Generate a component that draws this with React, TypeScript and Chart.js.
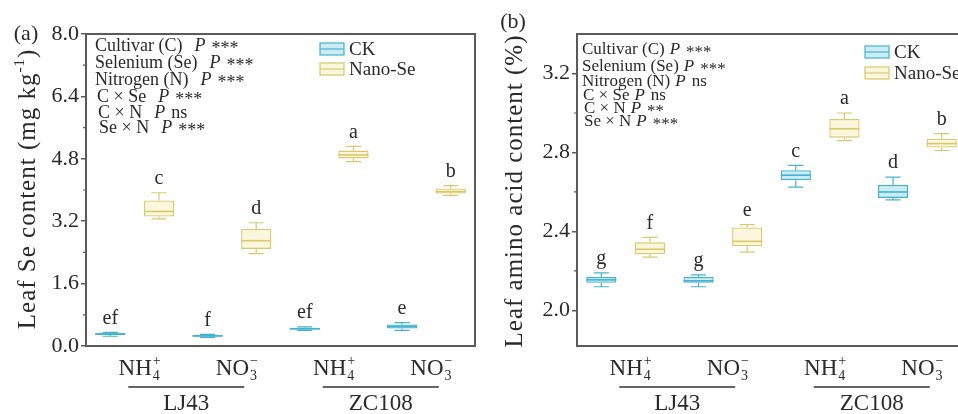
import React, { useEffect, useRef } from "react";
import { Chart, registerables } from "chart.js";

Chart.register(...registerables);

// ---------------- data ----------------
const categories = [
  "LJ43 NH4+ CK",
  "LJ43 NH4+ Nano-Se",
  "LJ43 NO3- CK",
  "LJ43 NO3- Nano-Se",
  "ZC108 NH4+ CK",
  "ZC108 NH4+ Nano-Se",
  "ZC108 NO3- CK",
  "ZC108 NO3- Nano-Se",
];
const treatments = ["CK", "Nano-Se"];
const nitrogenForms = ["NH4+", "NO3-", "NH4+", "NO3-"];
const cultivars = ["LJ43", "ZC108"];

// (a) Leaf Se content (mg kg-1)
const seMin = [0.25, 3.26, 0.22, 2.37, 0.4, 4.73, 0.4, 3.86];
const seQ1 = [0.28, 3.32, 0.24, 2.49, 0.42, 4.81, 0.45, 3.91];
const seMedian = [0.31, 3.45, 0.26, 2.7, 0.44, 4.9, 0.5, 3.96];
const seQ3 = [0.33, 3.73, 0.28, 3.0, 0.47, 5.01, 0.55, 4.04];
const seMax = [0.35, 3.93, 0.3, 3.16, 0.49, 5.12, 0.6, 4.11];
const seLetters = ["ef", "c", "f", "d", "ef", "a", "e", "b"];
const seTicks = [0, 1.6, 3.2, 4.8, 6.4, 8.0];
const seMinorTicks = [0.8, 2.4, 4.0, 5.6, 7.2];

// (b) Leaf amino acid content (%)
const aaMin = [2.12, 2.27, 2.12, 2.295, 2.625, 2.86, 2.56, 2.81];
const aaQ1 = [2.14, 2.285, 2.14, 2.325, 2.66, 2.875, 2.57, 2.825];
const aaMedian = [2.155, 2.31, 2.15, 2.35, 2.685, 2.92, 2.6, 2.845];
const aaQ3 = [2.17, 2.345, 2.17, 2.42, 2.71, 2.97, 2.635, 2.87];
const aaMax = [2.19, 2.37, 2.18, 2.435, 2.735, 3.0, 2.675, 2.895];
const aaLetters = ["g", "f", "g", "e", "c", "a", "d", "b"];
const aaTicks = [2.0, 2.4, 2.8, 3.2];
const aaMinorTicks = [2.2, 2.6, 3.0];

const statsA = [
  ["Cultivar (C)", "***"],
  ["Selenium (Se)", "***"],
  ["Nitrogen (N)", "***"],
  ["C × Se", "***"],
  ["C × N", "ns"],
  ["Se × N", "***"],
];
const statsB = [
  ["Cultivar (C)", "***"],
  ["Selenium (Se)", "***"],
  ["Nitrogen (N)", "ns"],
  ["C × Se", "ns"],
  ["C × N", "**"],
  ["Se × N", "***"],
];

// ---------------- styles ----------------
const SERIF = "'Liberation Serif', 'Times New Roman', serif";
const TEXT = "#2a2a2a";
const AXIS = "#5a5a5a";
const CK_BORDER = "#43b4cf";
const CK_FILL = "rgba(160,220,234,0.55)";
const NS_BORDER = "#d9c96c";
const NS_FILL = "rgba(250,244,205,0.7)";
const W = 491;
const H = 414;

type Panel = {
  panelLabel: string;
  panelLabelPos: [number, number];
  titleParts: [string, string, string];
  titleCenter: [number, number];
  yMin: number;
  yMax: number;
  ticks: number[];
  minor: number[];
  min: number[];
  q1: number[];
  med: number[];
  q3: number[];
  max: number[];
  letters: string[];
  stats: string[][];
  statsX: number[];
  statsY: number[];
  statsFont: number;
  statsGap: number;
  legendX: number;
  legendY: [number, number];
};

const panelA: Panel = {
  panelLabel: "(a)",
  panelLabelPos: [26, 34],
  titleParts: ["Leaf Se content (mg kg", "-1", ")"],
  titleCenter: [28, 189],
  yMin: 0,
  yMax: 8,
  ticks: seTicks,
  minor: seMinorTicks,
  min: seMin,
  q1: seQ1,
  med: seMedian,
  q3: seQ3,
  max: seMax,
  letters: seLetters,
  stats: statsA,
  statsX: [95, 95, 95, 97, 98, 99],
  statsY: [46, 63, 80, 97, 113, 128],
  statsFont: 18,
  statsGap: 12,
  legendX: 320,
  legendY: [49, 69],
};

const panelB: Panel = {
  panelLabel: "(b)",
  panelLabelPos: [22, 22],
  titleParts: ["Leaf amino acid content (%)", "", ""],
  titleCenter: [24, 191],
  yMin: 1.82,
  yMax: 3.4,
  ticks: aaTicks,
  minor: aaMinorTicks,
  min: aaMin,
  q1: aaQ1,
  med: aaMedian,
  q3: aaQ3,
  max: aaMax,
  letters: aaLetters,
  stats: statsB,
  statsX: [91, 91, 91, 92, 93, 93],
  statsY: [50, 67, 82, 96, 109, 122],
  statsFont: 17,
  statsGap: 5,
  legendX: 374,
  legendY: [52, 73],
};

function drawIon(ctx: CanvasRenderingContext2D, cx: number, baseY: number, base: string, sub: string, sup: string) {
  ctx.font = `23px ${SERIF}`;
  const wb = ctx.measureText(base).width;
  ctx.font = `14px ${SERIF}`;
  const ws = Math.max(ctx.measureText(sub).width, ctx.measureText(sup).width);
  const total = wb + ws + 1;
  const x0 = cx - total / 2;
  ctx.textAlign = "left";
  ctx.textBaseline = "alphabetic";
  ctx.font = `23px ${SERIF}`;
  ctx.fillText(base, x0, baseY);
  ctx.font = `14px ${SERIF}`;
  ctx.fillText(sub, x0 + wb + 1, baseY + 5);
  ctx.fillText(sup, x0 + wb + 1, baseY - 10);
}

function makePlugin(p: Panel) {
  return {
    id: "boxplotDecor",
    afterDatasetsDraw(chart: any) {
      const ctx: CanvasRenderingContext2D = chart.ctx;
      const xs = chart.scales.x;
      const ys = chart.scales.y;
      const area = chart.chartArea;
      const band = xs.getPixelForValue(1) - xs.getPixelForValue(0);
      const boxW = band * 0.62;
      ctx.save();
      // whiskers, medians, letters
      for (let i = 0; i < categories.length; i++) {
        const isCK = i % 2 === 0;
        const col = isCK ? CK_BORDER : NS_BORDER;
        const x = xs.getPixelForValue(i);
        const yMn = ys.getPixelForValue(p.min[i]);
        const yQ1 = ys.getPixelForValue(p.q1[i]);
        const yMd = ys.getPixelForValue(p.med[i]);
        const yQ3 = ys.getPixelForValue(p.q3[i]);
        const yMx = ys.getPixelForValue(p.max[i]);
        ctx.strokeStyle = col;
        ctx.lineWidth = 1.2;
        ctx.beginPath();
        ctx.moveTo(x, yQ3);
        ctx.lineTo(x, yMx);
        ctx.moveTo(x, yQ1);
        ctx.lineTo(x, yMn);
        ctx.moveTo(x - boxW * 0.25, yMx);
        ctx.lineTo(x + boxW * 0.25, yMx);
        ctx.moveTo(x - boxW * 0.25, yMn);
        ctx.lineTo(x + boxW * 0.25, yMn);
        ctx.stroke();
        ctx.lineWidth = 1.6;
        ctx.beginPath();
        ctx.moveTo(x - boxW / 2, yMd);
        ctx.lineTo(x + boxW / 2, yMd);
        ctx.stroke();
        ctx.fillStyle = TEXT;
        ctx.font = `20px ${SERIF}`;
        ctx.textAlign = "center";
        ctx.textBaseline = "middle";
        ctx.fillText(p.letters[i], x, yMx - 14);
      }
      // frame top and right
      ctx.strokeStyle = AXIS;
      ctx.lineWidth = 2;
      ctx.beginPath();
      ctx.moveTo(area.left, area.top);
      ctx.lineTo(area.right, area.top);
      ctx.lineTo(area.right, area.bottom);
      ctx.stroke();
      // minor ticks
      ctx.lineWidth = 1.2;
      ctx.beginPath();
      for (const v of p.minor) {
        const y = ys.getPixelForValue(v);
        ctx.moveTo(area.left - 3, y);
        ctx.lineTo(area.left, y);
      }
      ctx.stroke();
      // stats text
      ctx.fillStyle = TEXT;
      ctx.textAlign = "left";
      ctx.textBaseline = "middle";
      p.stats.forEach((s, k) => {
        let x = p.statsX[k];
        const y = p.statsY[k];
        ctx.font = `${p.statsFont}px ${SERIF}`;
        ctx.fillText(s[0], x, y);
        x += ctx.measureText(s[0]).width + p.statsGap;
        ctx.font = `italic ${p.statsFont}px ${SERIF}`;
        ctx.fillText("P", x, y);
        x += ctx.measureText("P").width + 6;
        ctx.font = `${p.statsFont}px ${SERIF}`;
        ctx.fillText(s[1], x, s[1] === "ns" ? y : y + 3);
      });
      // legend
      treatments.forEach((t, k) => {
        const y = p.legendY[k];
        ctx.fillStyle = k === 0 ? CK_FILL : NS_FILL;
        ctx.strokeStyle = k === 0 ? CK_BORDER : NS_BORDER;
        ctx.lineWidth = 1.2;
        ctx.fillRect(p.legendX, y - 6, 24, 12);
        ctx.strokeRect(p.legendX, y - 6, 24, 12);
        ctx.beginPath();
        ctx.moveTo(p.legendX, y);
        ctx.lineTo(p.legendX + 24, y);
        ctx.stroke();
        ctx.fillStyle = TEXT;
        ctx.font = `19px ${SERIF}`;
        ctx.textAlign = "left";
        ctx.textBaseline = "middle";
        ctx.fillText(t, p.legendX + 29, y + 1);
      });
      // x-axis labels
      ctx.fillStyle = TEXT;
      for (let j = 0; j < 4; j++) {
        const cx = (xs.getPixelForValue(2 * j) + xs.getPixelForValue(2 * j + 1)) / 2 + 5;
        const f = nitrogenForms[j];
        if (f === "NH4+") drawIon(ctx, cx, 375, "NH", "4", "+");
        else drawIon(ctx, cx, 375, "NO", "3", "−");
      }
      cultivars.forEach((c, k) => {
        const mid = (xs.getPixelForValue(4 * k) + xs.getPixelForValue(4 * k + 3)) / 2 + 3;
        ctx.strokeStyle = "#333";
        ctx.lineWidth = 1.5;
        ctx.beginPath();
        ctx.moveTo(mid - 58, 387);
        ctx.lineTo(mid + 58, 387);
        ctx.stroke();
        ctx.fillStyle = TEXT;
        ctx.font = `23px ${SERIF}`;
        ctx.textAlign = "center";
        ctx.textBaseline = "middle";
        ctx.fillText(c, mid, 404);
      });
      // panel label
      ctx.font = `22px ${SERIF}`;
      ctx.textAlign = "center";
      ctx.textBaseline = "middle";
      ctx.fillText(p.panelLabel, p.panelLabelPos[0], p.panelLabelPos[1]);
      // y title
      const TF = 25;
      const SF = 15;
      (ctx as any).letterSpacing = "1px";
      ctx.translate(p.titleCenter[0], p.titleCenter[1]);
      ctx.rotate(-Math.PI / 2);
      ctx.font = `${TF}px ${SERIF}`;
      const w0 = ctx.measureText(p.titleParts[0]).width;
      ctx.font = `${SF}px ${SERIF}`;
      const w1 = ctx.measureText(p.titleParts[1]).width;
      ctx.font = `${TF}px ${SERIF}`;
      const w2 = ctx.measureText(p.titleParts[2]).width;
      let tx = -(w0 + w1 + w2) / 2;
      ctx.textAlign = "left";
      ctx.textBaseline = "middle";
      ctx.fillText(p.titleParts[0], tx, 0);
      tx += w0;
      ctx.font = `${SF}px ${SERIF}`;
      ctx.fillText(p.titleParts[1], tx, -8);
      tx += w1;
      ctx.font = `${TF}px ${SERIF}`;
      ctx.fillText(p.titleParts[2], tx, 0);
      (ctx as any).letterSpacing = "0px";
      ctx.restore();
    },
  };
}

function buildConfig(p: Panel): any {
  return {
    type: "bar",
    data: {
      labels: categories,
      datasets: treatments.map((t, k) => ({
        label: t,
        data: categories.map((_, i) => (i % 2 === k ? [p.q1[i], p.q3[i]] : null)),
        backgroundColor: k === 0 ? CK_FILL : NS_FILL,
        borderColor: k === 0 ? CK_BORDER : NS_BORDER,
        borderWidth: 1.3,
        borderSkipped: false,
        skipNull: true,
        categoryPercentage: 1,
        barPercentage: 0.62,
      })),
    },
    options: {
      responsive: false,
      animation: false,
      devicePixelRatio: 1,
      layout: { padding: { left: 0, top: 34, right: 16, bottom: 0 } },
      plugins: { legend: { display: false }, tooltip: { enabled: false } },
      scales: {
        x: {
          type: "category",
          ticks: { display: false },
          grid: { display: false, drawTicks: false },
          border: { display: true, color: AXIS, width: 2 },
          afterFit: (s: any) => {
            s.height = 68;
          },
        },
        y: {
          min: p.yMin,
          max: p.yMax,
          afterBuildTicks: (s: any) => {
            s.ticks = p.ticks.map((v) => ({ value: v }));
          },
          ticks: {
            font: { family: SERIF, size: 22 },
            color: TEXT,
            padding: 2,
            callback: (v: any) => Number(v).toFixed(1),
          },
          grid: { drawOnChartArea: false, drawTicks: true, tickLength: 5, color: AXIS, lineWidth: 1.5 },
          border: { display: true, color: AXIS, width: 2 },
          afterFit: (s: any) => {
            s.width = 86;
          },
        },
      },
    },
    plugins: [makePlugin(p)],
  };
}

function PanelChart({ panel, left }: { panel: Panel; left: number }) {
  const ref = useRef<HTMLCanvasElement | null>(null);
  useEffect(() => {
    if (!ref.current) return;
    const chart = new Chart(ref.current, buildConfig(panel));
    return () => chart.destroy();
  }, [panel]);
  return (
    <canvas
      ref={ref}
      width={W}
      height={H}
      style={{ position: "absolute", left, top: 0, width: W, height: H }}
    />
  );
}

export default function App() {
  return (
    <div
      style={{
        position: "fixed",
        left: 0,
        top: 0,
        width: 958,
        height: 414,
        overflow: "hidden",
        background: "#fff",
      }}
    >
      <PanelChart panel={panelA} left={0} />
      <PanelChart panel={panelB} left={491} />
    </div>
  );
}
